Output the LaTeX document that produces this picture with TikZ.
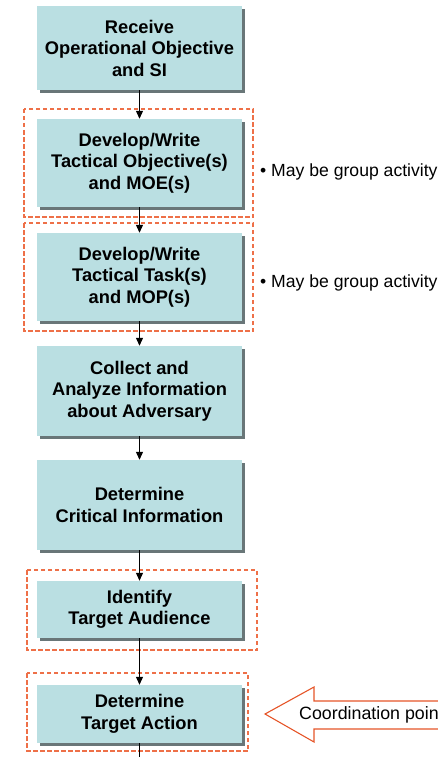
\documentclass[tikz,border=0pt]{standalone}
\usepackage{fontspec}
\setmainfont{Liberation Sans}
\usetikzlibrary{arrows.meta,shadows}
\definecolor{boxfill}{RGB}{186,223,226}
\definecolor{boxshadow}{RGB}{105,118,120}
\definecolor{groupline}{RGB}{230,85,40}
\definecolor{framedash}{RGB}{238,112,72}
\begin{document}
\begin{tikzpicture}[x=1pt,y=-1pt,
  stepbox/.style={fill=boxfill, draw=none, minimum width=205pt, align=center,
    font=\fontsize{18.3}{21.5}\selectfont\bfseries, inner sep=0pt,
    drop shadow={shadow xshift=3pt, shadow yshift=-3pt, opacity=1, fill=boxshadow}},
  flow/.style={line width=1.1pt, -{Triangle[length=8pt,width=7pt]}},
  group/.style={draw=framedash, line width=1.15pt, dash pattern=on 4.5pt off 2.5pt},
  note/.style={anchor=west, font=\fontsize{17.6}{21}\selectfont, inner sep=0pt}]
\useasboundingbox (0,0) rectangle (438,757);
\clip (0,0) rectangle (438,757);

% dashed group frames
\draw[group] (24,109) rectangle (253,217);
\draw[group] (24,223) rectangle (253,331);
\draw[group] (27,570) rectangle (257,650);
\draw[group] (27,673) rectangle (248,751);

% process steps
\node[stepbox, minimum height=84pt] (s1) at (139.5,48) {Receive\\Operational Objective\\and SI};
\node[stepbox, minimum height=88pt] (s2) at (139.5,163) {Develop/Write\\Tactical Objective(s)\\and MOE(s)};
\node[stepbox, minimum height=88pt] (s3) at (139.5,277) {Develop/Write\\Tactical Task(s)\\and MOP(s)};
\node[stepbox, minimum height=90pt] (s4) at (139.5,391) {Collect and\\Analyze Information\\about Adversary};
\node[stepbox, minimum height=90pt] (s5) at (139.5,505) {Determine\\Critical Information};
\node[stepbox, minimum height=57pt] (s6) at (139.5,609.5) {Identify\\Target Audience};
\node[stepbox, minimum height=58pt] (s7) at (139.5,714) {Determine\\Target Action};
\coordinate (tail) at (139.5,760);

% connectors
\draw[flow] (s1) -- (s2);
\draw[flow] (s2) -- (s3);
\draw[flow] (s3) -- (s4);
\draw[flow] (s4) -- (s5);
\draw[flow] (s5) -- (s6);
\draw[flow] (s6) -- (s7);
\draw[line width=1.1pt] (s7) -- (tail);

% side notes
\node[note] (n2) at (260,172) {\textbullet\ May be group activity};
\node[note] (n3) at (260,283) {\textbullet\ May be group activity};

% coordination block arrow, running on past the right edge
\draw[groupline, line width=1.1pt, fill=white]
  (265,714) -- (314,687) -- (314,701) -- (450,701) -- (450,729)
  -- (314,729) -- (314,742) -- cycle;
\node[note, font=\fontsize{17.8}{22}\selectfont] (coord) at (299,715) {Coordination point};
\end{tikzpicture}
\end{document}
